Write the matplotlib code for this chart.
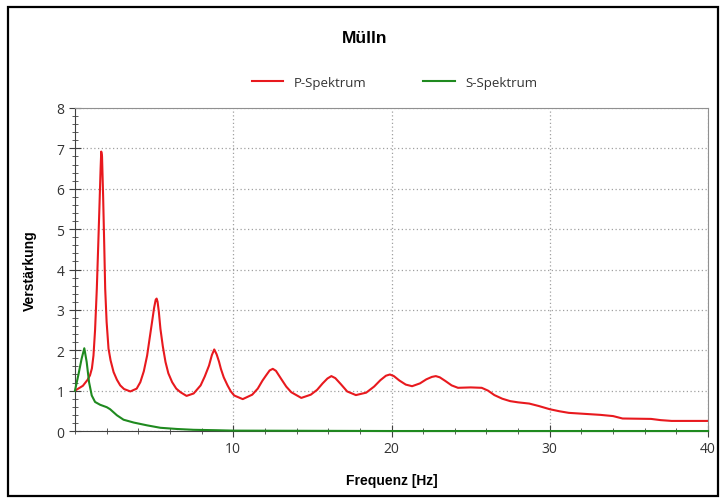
import matplotlib.pyplot as plt
from matplotlib.ticker import MultipleLocator
from matplotlib.patches import Rectangle

# frequency (Hz) / amplification values
p_freq = [0.0, 0.5, 0.8, 0.95, 1.07, 1.17, 1.27, 1.38, 1.47, 1.55, 1.62, 1.66, 1.71,
          1.78, 1.85, 1.91, 2.0, 2.12, 2.25, 2.44, 2.65, 2.86, 3.1, 3.5,
          3.9, 4.13, 4.35, 4.56, 4.72, 4.87, 5.0, 5.1, 5.16, 5.22, 5.3, 5.4, 5.55,
          5.72, 5.9, 6.14, 6.4, 6.67, 7.05,
          7.5, 7.94, 8.2, 8.47, 8.65, 8.8, 8.95, 9.1, 9.22, 9.4, 9.64, 9.85, 10.06, 10.6,
          11.2, 11.55, 11.85, 12.08, 12.3, 12.5, 12.7, 13.03, 13.35, 13.67, 14.3,
          14.9, 15.3, 15.65, 15.95, 16.2, 16.45, 16.8, 17.2, 17.75,
          18.4, 18.9, 19.3, 19.65, 19.9, 20.15, 20.5, 20.9, 21.3,
          21.8, 22.2, 22.55, 22.8, 23.05, 23.4, 23.8, 24.2, 25.0, 25.7,
          26.1, 26.5, 27.0, 27.5, 28.0, 28.7, 29.3, 30.0, 30.6, 31.2, 32.4, 33.2, 34.0,
          34.6, 36.4, 37.0, 37.7, 40.0]
p_amp = [1.0, 1.12, 1.27, 1.38, 1.55, 1.87, 2.5, 3.52, 4.6, 5.6, 6.5, 6.92, 6.8,
         5.8, 4.6, 3.52, 2.7, 2.04, 1.75, 1.46, 1.27, 1.13, 1.04, 0.98,
         1.05, 1.21, 1.48, 1.87, 2.3, 2.7, 3.05, 3.25, 3.28, 3.2, 2.95, 2.53, 2.1,
         1.71, 1.43, 1.21, 1.05, 0.96, 0.87,
         0.93, 1.13, 1.35, 1.62, 1.88, 2.02, 1.9, 1.72, 1.54, 1.33, 1.13, 0.98, 0.88, 0.79,
         0.9, 1.05, 1.25, 1.38, 1.5, 1.54, 1.49, 1.29, 1.1, 0.96, 0.82,
         0.9, 1.02, 1.18, 1.3, 1.36, 1.31, 1.16, 0.98, 0.89,
         0.95, 1.1, 1.26, 1.37, 1.4, 1.36, 1.25, 1.15, 1.11,
         1.18, 1.28, 1.34, 1.36, 1.33, 1.24, 1.13, 1.07, 1.08, 1.07,
         1.0, 0.89, 0.8, 0.74, 0.71, 0.68, 0.62, 0.54, 0.49, 0.45, 0.42, 0.4, 0.37,
         0.31, 0.3, 0.27, 0.25, 0.25]

s_freq = [0.0, 0.21, 0.42, 0.59, 0.74, 0.89, 1.06, 1.27, 1.59, 2.01, 2.22, 2.65, 3.07,
          3.71, 4.56, 5.4, 6.46, 7.5, 8.9, 10.0, 20.0, 30.0, 40.0]
s_amp = [1.0, 1.38, 1.79, 2.05, 1.71, 1.21, 0.88, 0.72, 0.65, 0.59, 0.54, 0.39, 0.28,
         0.21, 0.14, 0.08, 0.05, 0.03, 0.02, 0.01, 0.0, 0.0, 0.0]

fig = plt.figure(figsize=(7.25, 5.02), dpi=100)
ax = fig.add_axes([0.1034, 0.1394, 0.8732, 0.6435])

ax.plot(p_freq, p_amp, color='#e8191e', lw=1.5, label='P-Spektrum')
ax.plot(s_freq, s_amp, color='#1f8a1f', lw=1.5, label='S-Spektrum', clip_on=False, zorder=3)

ax.set_xlim(0, 40)
ax.set_ylim(0, 8)
ax.xaxis.set_major_locator(MultipleLocator(10))
ax.xaxis.set_minor_locator(MultipleLocator(2))
ax.yaxis.set_major_locator(MultipleLocator(1))
ax.yaxis.set_minor_locator(MultipleLocator(0.2))
ax.set_xticks([10, 20, 30, 40])

ax.grid(True, which='major', color='#a0a0a0', linestyle=(0, (1, 2)), lw=0.9)
ax.tick_params(which='major', direction='inout', length=8, color='#404040',
               labelsize=10, labelcolor='#333333')
ax.tick_params(which='minor', direction='inout', length=5, color='#404040')
for lbl in ax.get_xticklabels() + ax.get_yticklabels():
    lbl.set_fontfamily('Open Sans')

for side in ['left', 'bottom']:
    ax.spines[side].set_color('#404040')
for side in ['top', 'right']:
    ax.spines[side].set_color('#909090')

ax.set_xlabel('Frequenz [Hz]', fontsize=10, fontweight='bold', family='Liberation Sans', labelpad=12)
ax.set_ylabel('Verstärkung', fontsize=10, fontweight='bold', family='Liberation Sans', labelpad=14)

fig.text(0.503, 0.924, 'Mülln', ha='center', va='center', fontsize=12.5,
         fontweight='bold', family='Liberation Sans')

leg = ax.legend(loc='center', bbox_to_anchor=(0.505, 1.079), ncol=2, frameon=False,
                handlelength=2.4, columnspacing=4.3, handletextpad=0.8,
                prop={'family': 'Open Sans', 'size': 9.5})
for t in leg.get_texts():
    t.set_color('#333333')

# outer frame around the whole chart
fig.patches.append(Rectangle((0.011, 0.01), 0.979, 0.974, transform=fig.transFigure,
                             fill=False, edgecolor='black', lw=1.6))

fig.savefig('out.png', dpi=100)
